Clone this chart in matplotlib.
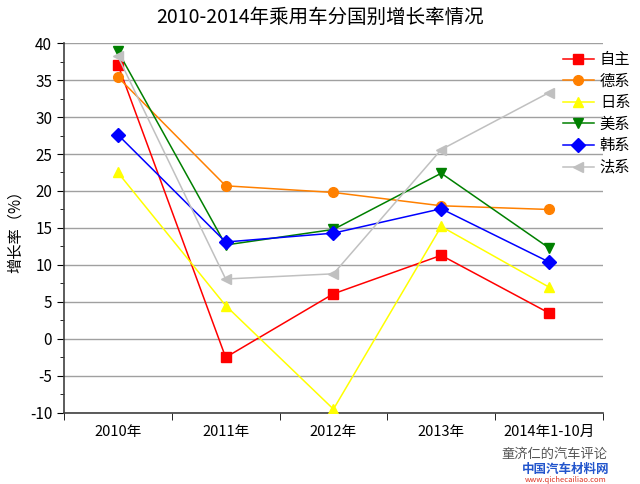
import numpy as np
import matplotlib
matplotlib.use('Agg')
import matplotlib.pyplot as plt
from matplotlib.ticker import MultipleLocator

plt.rcParams['font.family'] = ['Noto Sans CJK SC', 'DejaVu Sans']
plt.rcParams['axes.unicode_minus'] = False

years = ['2010年', '2011年', '2012年', '2013年', '2014年1-10月']
zizhu = [37.1, -2.5, 6.1, 11.3, 3.5]
dexi = [35.4, 20.7, 19.8, 18.0, 17.5]
rixi = [22.5, 4.5, -9.5, 15.2, 7.0]
meixi = [38.9, 12.7, 14.8, 22.4, 12.3]
hanxi = [27.6, 13.1, 14.3, 17.6, 10.4]
faxi = [38.2, 8.1, 8.8, 25.6, 33.3]

series = [('自主', zizhu, '#ff0000', 's'),
          ('德系', dexi, '#ff8000', 'o'),
          ('日系', rixi, '#ffff00', '^'),
          ('美系', meixi, '#008000', 'v'),
          ('韩系', hanxi, '#0000ff', 'D'),
          ('法系', faxi, '#c0c0c0', '<')]

fig = plt.figure(figsize=(6.4, 4.84), dpi=100)
ax = fig.add_axes([0.1, 0.147, 0.842, 0.764])
x = np.arange(len(years))
for name, vals, colour, mk in series:
    ax.plot(x, vals, color=colour, marker=mk, markersize=7, lw=1.1,
            label=name, zorder=3)

ax.set_xlim(-0.5, len(years) - 0.5)
ax.set_ylim(-10, 40)
ax.yaxis.set_major_locator(MultipleLocator(5))
ax.yaxis.set_minor_locator(MultipleLocator(2.5))
ax.set_xticks(x)
ax.set_xticklabels(years, fontsize=10.5)
ax.set_xticks(np.arange(len(years) + 1) - 0.5, minor=True)
ax.tick_params(axis='x', which='major', length=0, pad=9)
ax.tick_params(axis='x', which='minor', length=5, direction='out')
ax.tick_params(axis='y', which='major', length=5, labelsize=11)
ax.tick_params(axis='y', which='minor', length=3)
ax.grid(axis='y', which='major', color='#a0a0a0', lw=1)
ax.set_axisbelow(True)
for s in ['top', 'right']:
    ax.spines[s].set_visible(False)
for s in ['left', 'bottom']:
    ax.spines[s].set_color('#404040')
    ax.spines[s].set_linewidth(1.2)

ax.set_ylabel('增长率（%）', fontsize=11)
fig.suptitle('2010-2014年乘用车分国别增长率情况', fontsize=14, y=0.985)

ax.legend(loc='upper left', bbox_to_anchor=(0.915, 0.995), frameon=False,
          fontsize=11, handlelength=2.0, handletextpad=0.4,
          labelspacing=0.3, borderaxespad=0)

fig.text(0.783, 0.055, '童济仁的汽车评论', fontsize=9.5, color='#555555')
fig.text(0.815, 0.022, '中国汽车材料网', fontsize=9, color='#2255cc',
         fontweight='bold')
fig.text(0.82, 0.004, 'www.qichecailiao.com', fontsize=5.5, color='#dd3322')

fig.savefig('out.png', dpi=100)
